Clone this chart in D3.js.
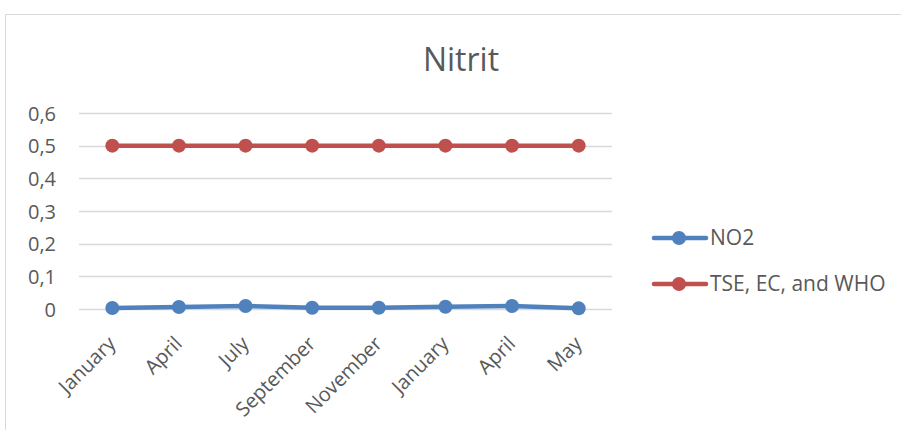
<!DOCTYPE html>
<html><head><meta charset="utf-8">
<script src="https://cdn.jsdelivr.net/npm/d3@7"></script>
<style>body{margin:0;background:#fff}svg{display:block}</style>
</head><body>
<svg id="c" width="901" height="430"></svg>
<script>
const categories = ["January","April","July","September","November","January","April","May"];
const no2 = [0.003, 0.006, 0.009, 0.004, 0.004, 0.007, 0.009, 0.002];
const limit = [0.5, 0.5, 0.5, 0.5, 0.5, 0.5, 0.5, 0.5];
const yTicks = [0, 0.1, 0.2, 0.3, 0.4, 0.5, 0.6];
const seriesNames = ["NO2", "TSE, EC, and WHO"];
const colors = ["#4F81BD", "#C0504D"];
const title = "Nitrit";

const font = "'Open Sans', 'Noto Sans', sans-serif";
const svg = d3.select("#c");
// chart border
svg.append("rect").attr("x",5.5).attr("y",14.5).attr("width",920).attr("height",440)
  .attr("fill","#fff").attr("stroke","#d9d9d9").attr("stroke-width",1);

const L = 79, R = 612, T = 113, B = 309;
const x = d3.scalePoint().domain(d3.range(categories.length)).range([L, R]).padding(0.5);
const y = d3.scaleLinear().domain([0, 0.6]).range([B, T]);

// gridlines
svg.append("g").selectAll("line").data(yTicks).join("line")
  .attr("x1",L).attr("x2",R).attr("y1",d=>Math.round(y(d))+0.5).attr("y2",d=>Math.round(y(d))+0.5)
  .attr("stroke","#d9d9d9").attr("stroke-width",1.3);

// y axis labels
const fmt = d => d === 0 ? "0" : d3.format(".1f")(d).replace(".", ",");
const yAxis = d3.axisLeft(y).tickValues(yTicks).tickFormat(fmt).tickSize(0).tickPadding(0);
const gy = svg.append("g").attr("transform",`translate(${56},0)`).call(yAxis);
gy.select(".domain").remove();
gy.selectAll("text").attr("font-family",font).attr("font-size",20).attr("fill","#595959").attr("dy","0.36em");

// x axis labels
const xAxis = d3.axisBottom(x).tickFormat(i=>categories[i]).tickSize(0).tickPadding(0);
const gx = svg.append("g").attr("transform",`translate(0,${B})`).call(xAxis);
gx.select(".domain").remove();
gx.selectAll("text").attr("font-family",font).attr("font-size",20).attr("fill","#595959")
  .attr("text-anchor","end").attr("dy",0).attr("y",0)
  .attr("transform","translate(4,36) rotate(-45)");

// series
const data = [no2, limit];
const line = d3.line().x((d,i)=>x(i)).y(d=>y(d));
data.forEach((s, k) => {
  svg.append("path").datum(s).attr("d", line).attr("fill","none")
    .attr("stroke", colors[k]).attr("stroke-width", 4.5).attr("stroke-linejoin","round").attr("stroke-linecap","round");
  svg.append("g").selectAll("circle").data(s).join("circle")
    .attr("cx",(d,i)=>x(i)).attr("cy",d=>y(d)).attr("r",7).attr("fill",colors[k]);
});

// title
svg.append("text").attr("x",461).attr("y",71).attr("text-anchor","middle")
  .attr("font-family",font).attr("font-size",32).attr("fill","#595959").text(title);

// legend
const ly = [238, 284];
seriesNames.forEach((n,k)=>{
  const g = svg.append("g");
  g.append("line").attr("x1",654).attr("x2",706).attr("y1",ly[k]).attr("y2",ly[k])
    .attr("stroke",colors[k]).attr("stroke-width",4.5).attr("stroke-linecap","round");
  g.append("circle").attr("cx",679).attr("cy",ly[k]).attr("r",7).attr("fill",colors[k]);
  g.append("text").attr("x",710).attr("y",ly[k]+7).attr("font-family",font).attr("font-size",21)
    .attr("fill","#595959").text(n);
});
</script>
</body></html>
